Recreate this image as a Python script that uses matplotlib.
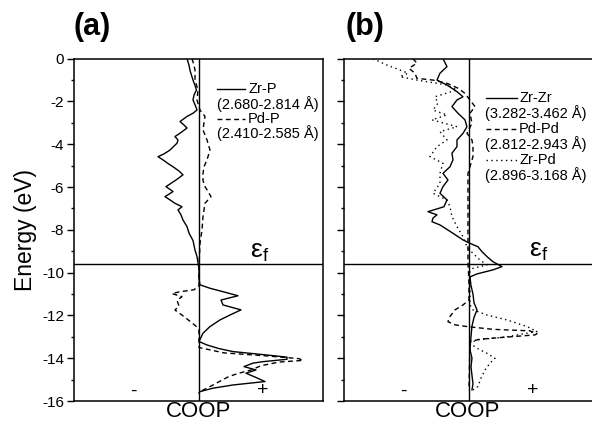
import matplotlib.pyplot as plt

plt.rcParams['font.family'] = ['Liberation Sans', 'DejaVu Sans']
plt.rcParams['mathtext.default'] = 'regular'
plt.rcParams['axes.unicode_minus'] = False

# panel (a): Zr-P (solid) and Pd-P (dashed), energy in eV, COOP in arb. units
zrp_e = [0, -0.3, -0.55, -1.0, -1.25, -1.46, -1.7, -1.93, -2.15, -2.4, -2.55,
         -2.7, -2.94, -3.1, -3.24, -3.45, -3.64, -3.8, -3.95, -4.27, -4.45,
         -4.58, -4.73, -4.9, -5.05, -5.25, -5.43, -5.67, -5.98, -6.21, -6.45,
         -6.6, -6.76, -6.92, -7.07, -7.3, -7.54, -7.85, -8.15, -8.5, -8.94,
         -9.25, -9.55, -9.8, -10.3, -10.57, -10.73, -10.89, -11.08, -11.28,
         -11.51, -11.74, -11.98, -12.21, -12.52, -12.83, -13.22, -13.38,
         -13.55, -13.69, -13.85, -13.95, -14.05, -14.16, -14.23, -14.39,
         -14.55, -14.7, -14.9, -15.09, -15.25, -15.4, -15.56, -15.62]
zrp_c = [-12, -10, -9, -6, -4, -2.5, -5, -6, -4, -2, -6, -12, -19, -15, -12,
         -18, -24, -21, -22, -29, -35, -41, -36, -31, -26, -20, -16, -23, -33,
         -26, -34, -29, -24, -17, -21, -18, -16, -12, -10, -6, -4, -2, -1, 0,
         0, 1, 11, 24, 39, 22, 24, 42, 31, 21, 11, 4, 0, 8, 20, 34, 68, 88,
         88, 64, 54, 45, 57, 47, 57, 66, 34, 14, 1, 0]

pdp_e = [0, -0.3, -0.53, -1.0, -1.46, -1.93, -2.4, -2.7, -3.0, -3.33, -3.8,
         -4.27, -4.73, -5.05, -5.36, -5.7, -5.98, -6.2, -6.45, -6.6, -6.76,
         -7.07, -7.38, -8.0, -8.63, -9.2, -9.6, -10.6, -10.8, -10.9, -10.98,
         -11.12, -11.3, -11.55, -11.75, -11.95, -12.2, -12.5, -12.7, -13.5,
         -13.75, -13.9, -14.02, -14.1, -14.18, -14.35, -14.55, -14.7, -14.85,
         -15.1, -15.35, -15.56, -15.6]
pdp_c = [-7, -5, -4, -4, -1, -2, 1, 6, 5, 4, 8, 11, 8, 5, 4, 4, 6, 9, 12, 9,
         6, 5, 4, 3, 1, 0.5, 0, 0, -5, -20, -27, -17, -22, -20, -24, -18,
         -11, -3, 0, 0, 25, 70, 100, 104, 80, 62, 52, 40, 30, 20, 10, 1, 0]

# panel (b): Zr-Zr (solid), Pd-Pd (dashed), Zr-Pd (dotted)
zrzr_e = [0, -0.37, -0.68, -1.0, -1.23, -1.54, -1.78, -1.93, -2.24, -2.55,
          -2.86, -3.18, -3.49, -3.8, -4.11, -4.42, -4.73, -5.05, -5.36, -5.67,
          -5.98, -6.29, -6.6, -6.92, -7.15, -7.3, -7.45, -7.62, -7.77, -8.16,
          -8.47, -8.63, -8.79, -9.02, -9.25, -9.49, -9.72, -9.87, -10.06,
          -10.2, -10.6, -11.0, -11.4, -11.74, -12.1, -12.5, -13.0, -13.6,
          -14.0, -14.4, -14.8, -15.2, -15.48]
zrzr_c = [-26, -22, -29, -32, -22, -12, -6, -12, -17, -11, -4, -2, -6, -12,
          -12, -17, -16, -19, -26, -21, -26, -29, -22, -25, -41, -32, -36,
          -37, -29, -16, -6, 1, 9, 13, 18, 24, 33, 24, 8, 1, 2, 4, 5, 8, 5, 3,
          2, 1, 3, 2, 3, 4, 3]

pdpd_e = [0, -0.21, -0.45, -0.68, -0.92, -1.0, -1.15, -1.38, -1.62, -1.93,
          -2.24, -2.55, -3.02, -3.49, -3.8, -4.11, -4.58, -5.05, -5.36, -6.5,
          -7.5, -8.5, -9.5, -10.5, -11.28, -11.51, -11.74, -12.05, -12.29,
          -12.44, -12.52, -12.65, -12.72, -12.85, -12.91, -13.0, -13.11,
          -13.22, -15.5]
pdpd_c = [-56, -52, -60, -54, -52, -36, -22, -11, -4, 1, 6, 1, 3, -2, 3, 4,
          4, 1, -1, -1, -1, -1, -1, 0, 0, -6, -14, -19, -21, -14, -2, 24, 61,
          68, 66, 41, 11, 1, 0]

zrpd_e = [0, -0.3, -0.53, -0.68, -0.84, -1.0, -1.23, -1.46, -1.78, -2.08,
          -2.4, -2.63, -2.86, -3.18, -3.41, -3.8, -4.11, -4.58, -4.89, -5.36,
          -5.83, -6.29, -6.6, -6.92, -7.38, -7.85, -8.32, -8.79, -9.1, -9.41,
          -9.64, -9.8, -9.95, -11.5, -11.74, -11.98, -12.21, -12.52, -12.75,
          -13.0, -13.14, -13.3, -13.53, -13.77, -14.0, -14.23, -14.55, -14.93,
          -15.32, -15.48]
zrpd_c = [-96, -82, -69, -61, -69, -52, -22, -12, -34, -31, -36, -22, -37,
          -12, -29, -22, -32, -39, -26, -29, -29, -36, -22, -19, -17, -12, -6,
          -2, 4, 11, 18, 4, 1, 1, 4, 18, 38, 58, 68, 38, 8, 1, 8, 18, 26, 21,
          16, 12, 9, 4]

e_fermi = -9.6
yticks = [0, -2, -4, -6, -8, -10, -12, -14, -16]


def scale(vals):
    return [v / 100 for v in vals]


fig = plt.figure(figsize=(5.92, 4.24), dpi=100)
ax1 = fig.add_axes([0.125, 0.0542, 0.4206, 0.8074])
ax2 = fig.add_axes([0.581, 0.0542, 0.419, 0.8074])

ax1.plot(scale(zrp_c), zrp_e, color='black', lw=1.0)
ax1.plot(scale(pdp_c), pdp_e, color='black', lw=1.0, ls=(0, (3.5, 2.5)))
ax1.set_xlim(-1.25, 1.24)

ax2.plot(scale(zrzr_c), zrzr_e, color='black', lw=1.0)
ax2.plot(scale(pdpd_c), pdpd_e, color='black', lw=1.0, ls=(0, (3.5, 2.5)))
ax2.plot(scale(zrpd_c), zrpd_e, color='black', lw=1.0, ls=(0, (1, 2.5)))
ax2.set_xlim(-1.25, 1.23)
ax2.spines['right'].set_visible(False)

for ax in (ax1, ax2):
    ax.axvline(0, color='black', lw=1.0)
    ax.axhline(e_fermi, color='black', lw=1.0)
    ax.set_ylim(-16, 0)
    ax.set_yticks(yticks)
    ax.set_yticks([-1, -3, -5, -7, -9, -11, -13, -15], minor=True)
    ax.set_xticks([])
    ax.tick_params(axis='y', which='major', length=5, width=1.0,
                   labelsize=11, pad=2)
    ax.tick_params(axis='y', which='minor', length=2.5, width=1.0)
    for s in ax.spines.values():
        s.set_linewidth(1.1)
    ax.set_xlabel('COOP', fontsize=16, labelpad=0)
    ax.text(0.24, 0.027, '-', transform=ax.transAxes, fontsize=14,
            ha='center', va='center')
    ax.text(0.76, 0.03, '+', transform=ax.transAxes, fontsize=14,
            ha='center', va='center')

ax2.tick_params(axis='y', labelleft=False)
ax1.set_ylabel('Energy (eV)', fontsize=16.5, labelpad=4)

ax1.text(0.705, 0.418, r'$\varepsilon_f$', transform=ax1.transAxes,
         fontsize=19, ha='left', va='baseline')
ax2.text(0.748, 0.422, r'$\varepsilon_f$', transform=ax2.transAxes,
         fontsize=19, ha='left', va='baseline')

fig.text(0.1554, 0.936, '(a)', fontsize=22, fontweight='bold',
         ha='center', va='center')
fig.text(0.6166, 0.936, '(b)', fontsize=22, fontweight='bold',
         ha='center', va='center')

# hand-made legends
leg_a = [('Zr-P', '(2.680-2.814 Å)', '-'),
         ('Pd-P', '(2.410-2.585 Å)', (0, (3.5, 2.5)))]
y0 = 0.9115
for name, dist, style in leg_a:
    ax1.plot([0.574, 0.687], [y0, y0], transform=ax1.transAxes,
             color='black', lw=1.0, ls=style)
    ax1.text(0.699, y0, name, transform=ax1.transAxes, fontsize=10.5,
             ha='left', va='center')
    ax1.text(0.779, y0 - 0.0425, dist, transform=ax1.transAxes,
             fontsize=10.5, ha='center', va='center')
    y0 -= 0.0875

leg_b = [('Zr-Zr', '(3.282-3.462 Å)', '-'),
         ('Pd-Pd', '(2.812-2.943 Å)', (0, (3.5, 2.5))),
         ('Zr-Pd', '(2.896-3.168 Å)', (0, (1, 2.5)))]
y0 = 0.8852
for name, dist, style in leg_b:
    ax2.plot([0.573, 0.698], [y0, y0], transform=ax2.transAxes,
             color='black', lw=1.0, ls=style)
    ax2.text(0.706, y0, name, transform=ax2.transAxes, fontsize=10.5,
             ha='left', va='center')
    ax2.text(0.774, y0 - 0.0438, dist, transform=ax2.transAxes,
             fontsize=10.5, ha='center', va='center')
    y0 -= 0.0905

fig.savefig('out.png', dpi=100)
